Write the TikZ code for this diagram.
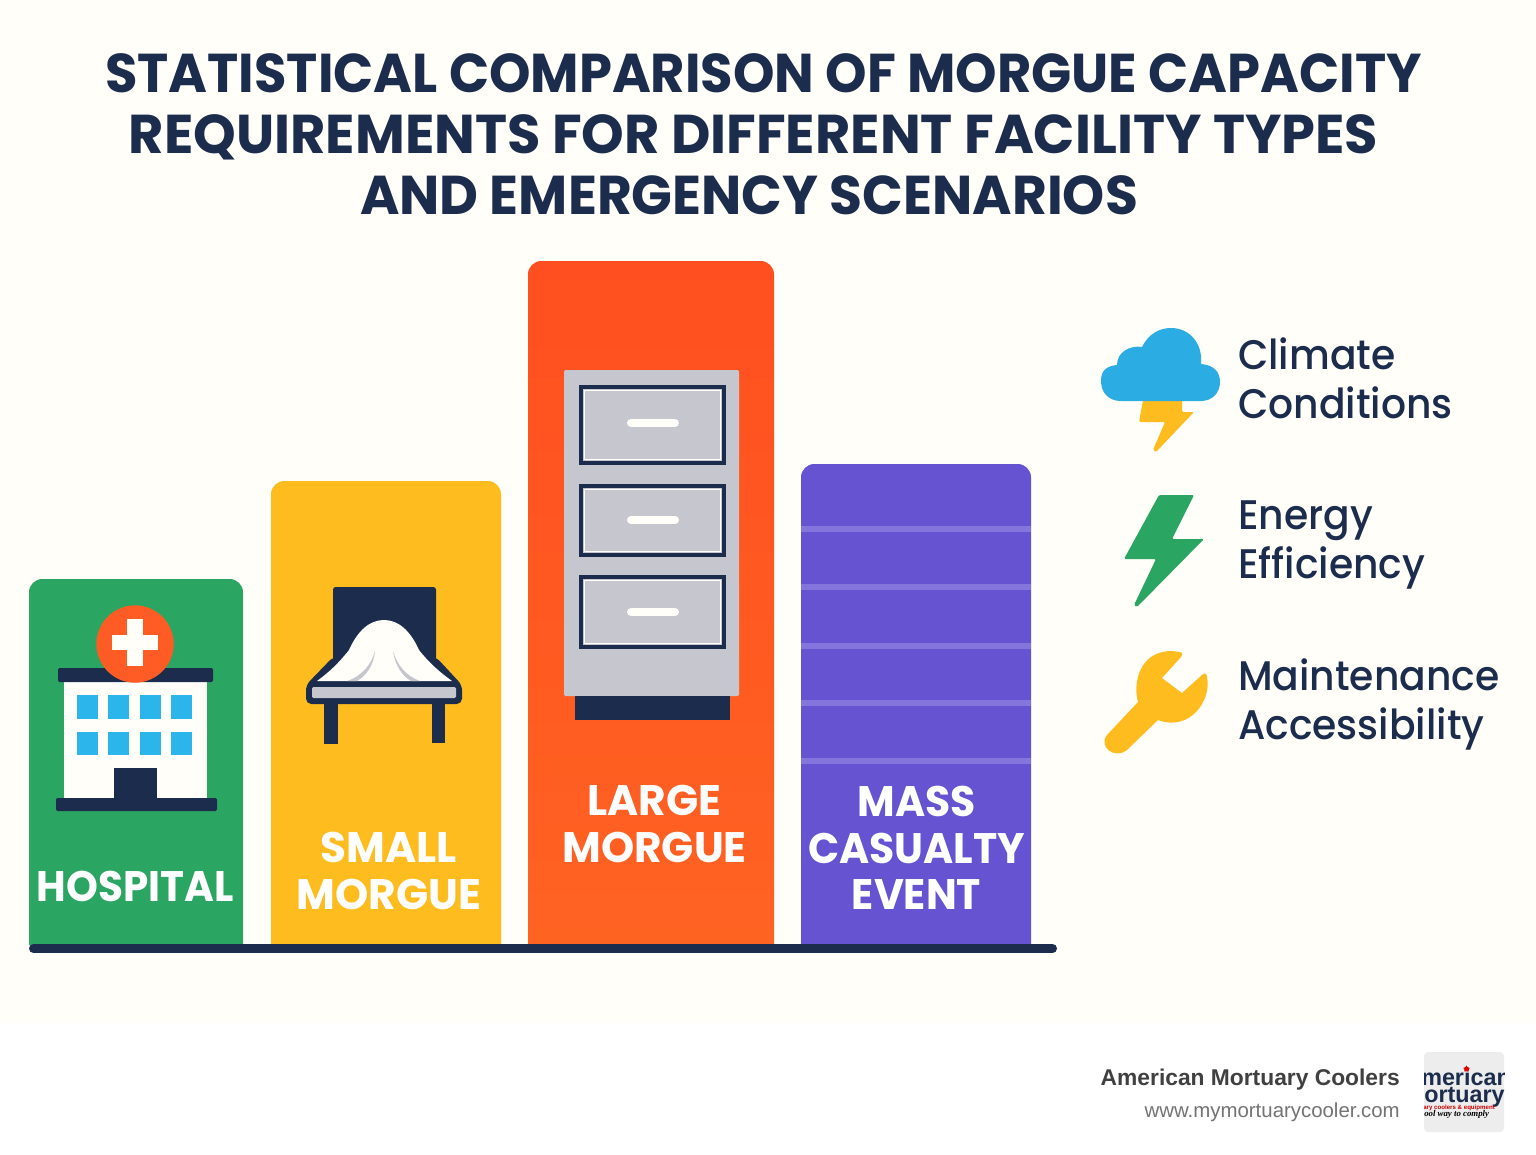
\documentclass[tikz,border=0pt]{standalone}
\usepackage{fontspec}
\usetikzlibrary{shapes.geometric}
\setmainfont{Poppins}
\newfontfamily\sidefont{Poppins Medium}
\newfontfamily\footfont{Liberation Sans}
\newfontfamily\logoscript{Liberation Serif}
\definecolor{navy}{HTML}{1C2C4C}
\definecolor{paper}{HTML}{FFFEF9}
\definecolor{barGreen}{HTML}{2BA562}
\definecolor{barYellow}{HTML}{FFBC1F}
\definecolor{barOrange}{HTML}{FF5B24}
\definecolor{barOrangeTop}{HTML}{FF4F20}
\definecolor{barOrangeLow}{HTML}{FF6322}
\definecolor{barPurple}{HTML}{6553D2}
\definecolor{skyBlue}{HTML}{2CB5EA}
\definecolor{cloudBlue}{HTML}{2BADE4}
\definecolor{steel}{HTML}{C6C6CE}
\tikzset{
  titleline/.style={navy,font=\fontsize{41}{41}\selectfont\bfseries,anchor=base,inner sep=0pt},
  barlabel/.style={white,font=\fontsize{32}{35}\selectfont\bfseries,align=center},
  sidelabel/.style={navy,font=\sidefont\fontsize{31}{36.75}\selectfont,align=left,anchor=west,xscale=0.95,inner sep=0pt},
  drawer/.style={fill=steel,draw=navy,line width=3.4pt},
  handle/.style={paper,line width=6pt,line cap=round},
  pane/.style={fill=skyBlue},
  logotext/.style={anchor=base west,inner sep=0pt},
}
\begin{document}
\begin{tikzpicture}[x=0.75pt,y=-0.75pt]
  \useasboundingbox (0,0) rectangle (1536,1154);
  \fill[paper] (0,0) rectangle (1536,1023);
  \fill[white] (0,1023) rectangle (1536,1154);

  \node[titleline,xscale=0.965] (title1) at (763.5,92) {STATISTICAL COMPARISON OF MORGUE CAPACITY};
  \node[titleline,xscale=0.992] (title2) at (753.5,153) {REQUIREMENTS FOR DIFFERENT FACILITY TYPES};
  \node[titleline,xscale=0.979] (title3) at (749,214) {AND EMERGENCY SCENARIOS};

  % bars
  \fill[barGreen] (29,945) [rounded corners=10pt] -- (29,579) -- (243,579) [sharp corners] -- (243,945) -- cycle;
  \fill[barYellow] (271,945) [rounded corners=10pt] -- (271,481) -- (501,481) [sharp corners] -- (501,945) -- cycle;
  \shade[top color=barOrangeTop,bottom color=barOrangeLow] (528,945) [rounded corners=10pt] -- (528,261) -- (774,261) [sharp corners] -- (774,945) -- cycle;
  \fill[barPurple] (801,945) [rounded corners=10pt] -- (801,464) -- (1031,464) [sharp corners] -- (1031,945) -- cycle;
  \draw[navy,line width=6.75pt,line cap=round] (33.5,948.5) -- (1052.5,948.5);

  % hospital
  \fill[paper] (64,680) rectangle (207,798);
  \fill[navy,rounded corners=1pt] (58,668) rectangle (213,682);
  \fill[navy,rounded corners=1pt] (56,798) rectangle (217,811);
  \fill[navy] (114,768) rectangle (157,800);
  \foreach \xa in {77,108,140,171} {
    \fill[pane] (\xa,695) rectangle +(21,24);
    \fill[pane] (\xa,732) rectangle +(21,23);
  }
  \fill[barOrange] (135,644) circle[radius=29pt];
  \fill[paper] (127,619) rectangle (143,666);
  \fill[paper] (112,635) rectangle (158,650);

  % table
  \fill[navy,rounded corners=2pt] (333,587) rectangle (436,680);
  \fill[navy,rounded corners=4pt] (306,704) -- (306,685) -- (333,657) -- (436,657) -- (462,685) -- (462,704) -- cycle;
  \fill[navy] (324,700) rectangle (338,744);
  \fill[navy] (432,700) rectangle (445,743);
  \fill[steel,rounded corners=1pt] (312,687) rectangle (456,698);
  \fill[paper] (317,681) .. controls (328,673) and (338,664) .. (349,650)
    .. controls (358,630) and (370,620) .. (384,620)
    .. controls (398,620) and (410,630) .. (419,650)
    .. controls (430,664) and (441,673) .. (452,681) -- cycle;
  \fill[steel] (347,681) .. controls (362,676) and (371,665) .. (375,651) .. controls (374,665) and (366,676) .. (357,681) -- cycle;
  \fill[steel] (420,681) .. controls (406,676) and (397,665) .. (393,651) .. controls (395,665) and (402,676) .. (411,681) -- cycle;

  % cabinet
  \fill[steel,rounded corners=1pt] (564,370) rectangle (739,696);
  \fill[navy] (575,696) rectangle (730,720);
  \foreach \ya/\yb/\yc in {387/463/423,486/555/520,577/647/612} {
    \draw[drawer] (581,\ya) rectangle (724,\yb);
    \draw[paper,line width=0.6pt] (584.5,\ya+3.5) rectangle (720.5,\yb-3.5);
    \draw[handle] (631,\yc) -- (675,\yc);
  }

  % shelves
  \foreach \ya in {529,587,646,703,761}
    \fill[white,opacity=0.2] (801,\ya-3) rectangle (1031,\ya+3);

  \node[barlabel,xscale=0.95] (hospital) at (135,886) {HOSPITAL};
  \node[barlabel,xscale=0.99] (small) at (389,871) {SMALL\\MORGUE};
  \node[barlabel,xscale=0.99] (large) at (654.5,824) {LARGE\\MORGUE};
  \node[barlabel,xscale=0.96] (mass) at (916.5,848) {MASS\\CASUALTY\\EVENT};

  % side icons
  \fill[barYellow,rounded corners=1pt] (1143,400) -- (1182,400) -- (1182,412) -- (1194,412) -- (1156,452) -- (1153,450) -- (1165,422) -- (1139,422) -- cycle;
  \fill[cloudBlue] (1121,401) .. controls (1108,401) and (1101,392) .. (1101,381)
    .. controls (1101,370) and (1107,366) .. (1117,365)
    .. controls (1117,352) and (1130,345) .. (1142,347)
    .. controls (1148,335) and (1158,328) .. (1171,328)
    .. controls (1190,328) and (1203,344) .. (1201,364)
    .. controls (1214,365) and (1220,372) .. (1220,382)
    .. controls (1220,393) and (1212,401) .. (1201,401) -- cycle;
  \fill[barGreen,rounded corners=1pt] (1159,495) -- (1194,495) -- (1172,539) -- (1204,539) -- (1137,607) -- (1134,605) -- (1156,559) -- (1124,559) -- cycle;
  \fill[barYellow] (1107,735) -- (1138,702)
    .. controls (1133,685) and (1138,651) .. (1172,651)
    -- (1180,652) .. controls (1183,653) and (1183,655) .. (1181,657)
    -- (1162,678) -- (1182,693) -- (1202,675)
    .. controls (1205,672) and (1207,674) .. (1207,677)
    .. controls (1212,700) and (1190,732) .. (1158,720)
    -- (1127,750) .. controls (1114,760) and (1098,746) .. (1107,735) -- cycle;

  \node[sidelabel] (climate) at (1238,378) {Climate\\Conditions};
  \node[sidelabel] (energy) at (1238,545) {Energy\\Efficiency};
  \node[sidelabel] (maint) at (1238,704) {Maintenance\\Accessibility};

  % footer
  \node[anchor=east,inner sep=0pt,font=\footfont\bfseries\fontsize{17.1}{20}\selectfont,text=black!75] (brand) at (1400,1080) {American Mortuary Coolers};
  \node[anchor=east,inner sep=0pt,font=\footfont\fontsize{15.3}{18}\selectfont,text=black!55] (site) at (1400,1112) {www.mymortuarycooler.com};
  \fill[black!7,rounded corners=3pt] (1424,1052) rectangle (1504,1132);
  \begin{scope}
    \clip (1424,1052) rectangle (1504,1132);
    \node[logotext,navy,font=\footfont\bfseries\fontsize{17.5}{17.5}\selectfont] (logo1) at (1421,1085) {merican};
    \node[logotext,navy,font=\footfont\bfseries\fontsize{17.5}{17.5}\selectfont] (logo2) at (1424,1102) {ortuary};
    \node[logotext,red!80!black,font=\footfont\bfseries\fontsize{4.6}{5}\selectfont] (logo3) at (1423,1109) {ary coolers \& equipment};
    \node[logotext,black,font=\logoscript\bfseries\itshape\fontsize{6.6}{7}\selectfont] (logo4) at (1424,1116) {ool way to comply};
    \node[star,star points=5,fill=red!85!black,inner sep=0pt,minimum size=5pt] (logostar) at (1466.5,1069) {};
  \end{scope}
\end{tikzpicture}
\end{document}
